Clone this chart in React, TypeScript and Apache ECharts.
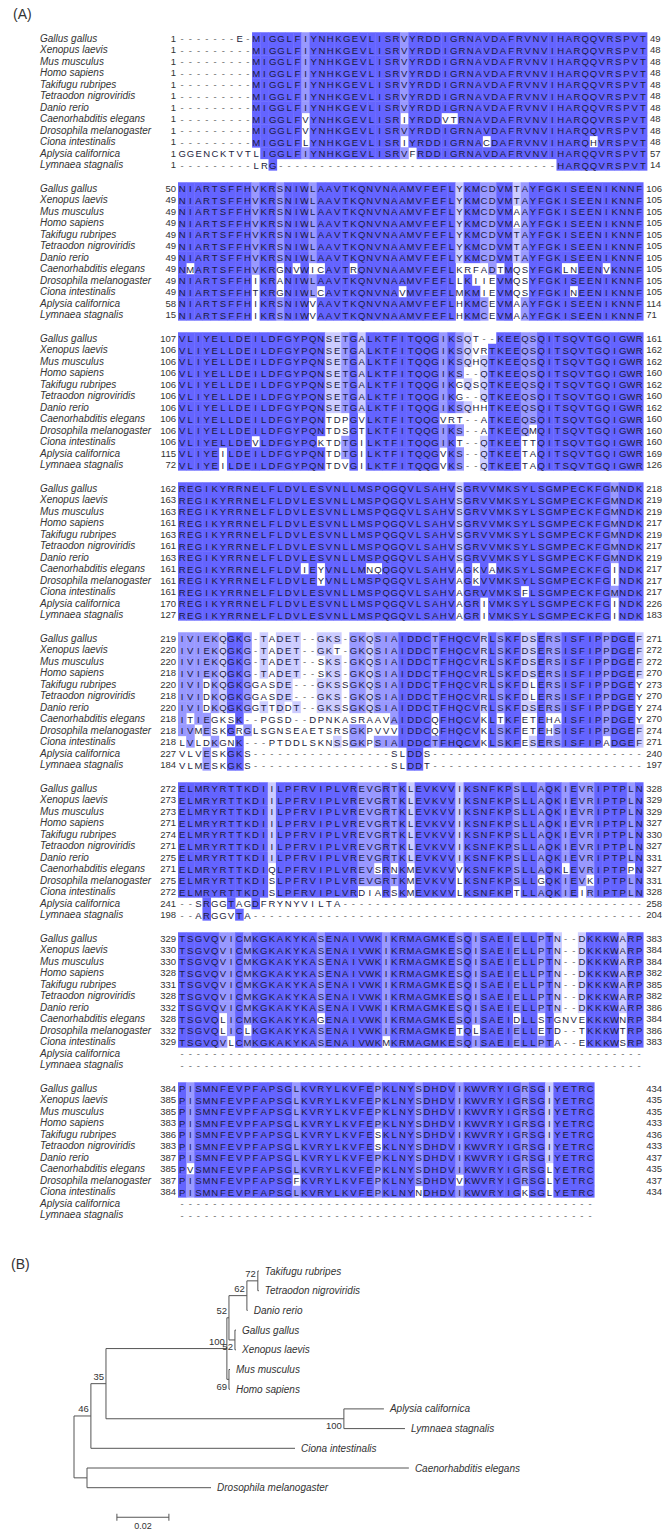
import React, { useEffect, useRef } from "react";
import * as echarts from "echarts";

// ---------- alignment data ----------
const SPECIES = [
  "Gallus gallus",
  "Xenopus laevis",
  "Mus musculus",
  "Homo sapiens",
  "Takifugu rubripes",
  "Tetraodon nigroviridis",
  "Danio rerio",
  "Caenorhabditis elegans",
  "Drosophila melanogaster",
  "Ciona intestinalis",
  "Aplysia californica",
  "Lymnaea stagnalis",
];

const COLUMNS_PER_LINE = 57;

const BLOCK1 = [
  "-------E-MIGGLFIYNHKGEVLISRVYRDDIGRNAVDAFRVNVIHARQQVRSPVT",
  "---------MIGGLFIYNHKGEVLISRVYRDDIGRNAVDAFRVNVIHARQQVRSPVT",
  "---------MIGGLFIYNHKGEVLISRVYRDDIGRNAVDAFRVNVIHARQQVRSPVT",
  "---------MIGGLFIYNHKGEVLISRVYRDDIGRNAVDAFRVNVIHARQQVRSPVT",
  "---------MIGGLFIYNHKGEVLISRVYRDDIGRNAVDAFRVNVIHARQQVRSPVT",
  "---------MIGGLFIYNHKGEVLISRVYRDDIGRNAVDAFRVNVIHARQQVRSPVT",
  "---------MIGGLFIYNHKGEVLISRVYRDDIGRNAVDAFRVNVIHARQQVRSPVT",
  "---------MIGGLFVYNHKGEVLISRIYRDDVTRNAVDAFRVNVIHARQQVRSPVT",
  "---------MIGGLFVYNHKGEVLISRVYRDDIGRNAVDAFRVNVIHARQQVRSPVT",
  "---------MIGGLFLYNHKGEVLISRIYRDDIGRNACDAFRVNVIHARQHVRSPVT",
  "GGENCKTVTLIGGLFIYNHKGEVLISRVFRDDIGRNAVDAFRVNVIHARQQVRSPVT",
  "---------LRG" + "----------" + "----------" + "----------" + "----" + "HARQQVRSPVT",
];
const BLOCK1_START = [1, 1, 1, 1, 1, 1, 1, 1, 1, 1, 1, 1];
const BLOCK1_END = [49, 48, 48, 48, 48, 48, 48, 48, 48, 48, 57, 14];

const BLOCK2 = [
  "NIARTSFFHVKRSNIWLAAVTKQNVNAAMVFEFLYKMCDVMTAYFGKISEENIKNNF",
  "NIARTSFFHVKRSNIWLAAVTKQNVNAAMVFEFLYKMCDVMTAYFGKISEENIKNNF",
  "NIARTSFFHVKRSNIWLAAVTKQNVNAAMVFEFLYKMCDVMAAYFGKISEENIKNNF",
  "NIARTSFFHVKRSNIWLAAVTKQNVNAAMVFEFLYKMCDVMAAYFGKISEENIKNNF",
  "NIARTSFFHVKRSNIWLAAVTKQNVNAAMVFEFLYKMCDVMTAYFGKISEENIKNNF",
  "NIARTSFFHVKRSNIWLAAVTKQNVNAAMVFEFLYKMCDVMTAYFGKISEENIKNNF",
  "NIARTSFFHVKRSNIWLAAVTKQNVNAAMVFEFLYKMCDVMTAYFGKISEENIKNNF",
  "NMARTSFFHVKRGNVWICAVTRQNVNAAMVFEFLKRFADTMQSYFGKLNEENVKNNF",
  "NIARTSFFHIKRANIWLAAVTKQNVNAAMVFEFLLKIIEVMQSYFGKISEENIKNNF",
  "NIARTSFFHTKRGNIWLCAVTKQNVNAVMVFEFLMKMIEVMQSYFGKINEENIKNNF",
  "NIARTSFFHIKRSNIWVAAVTKQNVNAAMVFEFLHKMCEVMAAYFGKISEENIKNNF",
  "NIARTSFFHIKRSNIWVAAVTKQNVNAAMVFEFLHKMCEVMAAYFGKISEENIKNNF",
];
const BLOCK2_START = [50, 49, 49, 49, 49, 49, 49, 49, 49, 49, 58, 15];
const BLOCK2_END = [106, 105, 105, 105, 105, 105, 105, 105, 105, 105, 114, 71];

const BLOCK3 = [
  "VLIYELLDEILDFGYPQNSETGALKTFITQQGIKSQT--KEEQSQITSQVTGQIGWR",
  "VLIYELLDEILDFGYPQNSETGALKTFITQQGIKSQVRTKEEQSQITSQVTGQIGWR",
  "VLIYELLDEILDFGYPQNSETGALKTFITQQGIKSQHQTKEEQSQITSQVTGQIGWR",
  "VLIYELLDEILDFGYPQNSETGALKTFITQQGIKS--QTKEEQSQITSQVTGQIGWR",
  "VLIYELLDEILDFGYPQNSETGALKTFITQQGIKGQSQTKEEQSQITSQVTGQIGWR",
  "VLIYELLDEILDFGYPQNSETGALKTFITQQGIKG--QTKEEQSQITSQVTGQIGWR",
  "VLIYELLDEILDFGYPQNSETGALKTFITQQGIKSQHHTKEEQSQITSQVTGQIGWR",
  "VLIYELLDEILDFGYPQNTDPGVLKTFITQQGVRT--ATKEEQSQITSQVTGQIGWR",
  "VLIYELLDEILDFGYPQNTDSGTLKTFITQQGIKS--ATKEEQMQITSQVTGQIGWR",
  "VLIYELLDEVLDFGYPQKTDTGILKTFITQQGIKT--QTKEETTQITSQVTGQIGWR",
  "VLIYEILDEILDFGYPQNTDTGILKTFITQQGVKS--QTKEETAQITSQVTGQIGWR",
  "VLIYEILDEILDFGYPQNTDVGILKTFITQQGVKS--QTKEETAQITSQVTGQIGWR",
];
const BLOCK3_START = [107, 106, 106, 106, 106, 106, 106, 106, 106, 106, 115, 72];
const BLOCK3_END = [161, 162, 162, 160, 162, 160, 162, 160, 160, 160, 169, 126];

const BLOCK4 = [
  "REGIKYRRNELFLDVLESVNLLMSPQGQVLSAHVSGRVVMKSYLSGMPECKFGMNDK",
  "REGIKYRRNELFLDVLESVNLLMSPQGQVLSAHVSGRVVMKSYLSGMPECKFGMNDK",
  "REGIKYRRNELFLDVLESVNLLMSPQGQVLSAHVSGRVVMKSYLSGMPECKFGMNDK",
  "REGIKYRRNELFLDVLESVNLLMSPQGQVLSAHVSGRVVMKSYLSGMPECKFGMNDK",
  "REGIKYRRNELFLDVLESVNLLMSPQGQVLSAHVSGRVVMKSYLSGMPECKFGMNDK",
  "REGIKYRRNELFLDVLESVNLLMSPQGQVLSAHVSGRVVMKSYLSGMPECKFGMNDK",
  "REGIKYRRNELFLDVLESVNLLMSPQGQVLSAHVSGRVVMKSYLSGMPECKFGMNDK",
  "REGIKYRRNELFLDVIEYVNLLMNQQGQVLSAHVAGKVAMKSYLSGMPECKFGINDK",
  "REGIKYRRNELFLDVLEYVNLLMSPQGQVLSAHVAGKVVMKSYLSGMPECKFGINDK",
  "REGIKYRRNELFLDVLESVNLLMSPQGQVLSAHVAGRVVMKSFLSGMPECKFGMNDK",
  "REGIKYRRNELFLDVLESVNLLMSPQGQVLSAHVAGRIVMKSYLSGMPECKFGINDK",
  "REGIKYRRNELFLDVLESVNLLMSPQGQVLSAHVAGRIVMKSYLSGMPECKFGINDK",
];
const BLOCK4_START = [162, 163, 163, 161, 163, 161, 163, 161, 161, 161, 170, 127];
const BLOCK4_END = [218, 219, 219, 217, 219, 217, 219, 217, 217, 217, 226, 183];

const BLOCK5 = [
  "IVIEKQGKG-TADET--GKS-GKQSIAIDDCTFHQCVRLSKFDSERSISFIPPDGEF",
  "IVIEKQGKG-TADET--GKT-GKQSIAIDDCTFHQCVRLSKFDSERSISFIPPDGEF",
  "IVIEKQGKG-TADET--SKS-GKQSIAIDDCTFHQCVRLSKFDSERSISFIPPDGEF",
  "IVIEKQGKG-TADET--SKS-GKQSIAIDDCTFHQCVRLSKFDSERSISFIPPDGEF",
  "IVIDKQGKGGASDE---GKSSGKQSIAIDDCTFHQCVRLSKFDLERSISFIPPDGEY",
  "IVIDKQGKGGASDE---GKS-GKQSIAIDDCTFHQCVRLSKFDLERSISFIPPDGEY",
  "IVIDKQGKGGTTDDT--GKSSGKQSIAIDDCTFHQCVRLSKFDSERSISFIPPDGEY",
  "ITIEGKSK--PGSD--DPNKASRAAVAIDDCQFHQCVKLTKFETEHAISFIPPDGEY",
  "IVMESKGRGLSGNSEAETSRSGKPVVVIDDCQFHQCVKLSKFETEHSISFIPPDGEF",
  "LVLDKGNK---PTDDLSKNSSGKPSIAIDDCTFHQCVKLSKFESERSISFIPADGEF",
  "VLVESKGKS" + "----------" + "-------" + "SLDDS",
  "VLMESKGKS" + "----------" + "-------" + "SLDDT",
];
const BLOCK5_START = [219, 220, 220, 218, 220, 218, 220, 218, 218, 218, 227, 184];
const BLOCK5_END = [271, 272, 272, 270, 273, 270, 274, 270, 274, 271, 240, 197];

const BLOCK6 = [
  "ELMRYRTTKDIILPFRVIPLVREVGRTKLEVKVVIKSNFKPSLLAQKIEVRIPTPLN",
  "ELMRYRTTKDIILPFRVIPLVREVGRTKLEVKVVIKSNFKPSLLAQKIEVRIPTPLN",
  "ELMRYRTTKDIILPFRVIPLVREVGRTKLEVKVVIKSNFKPSLLAQKIEVRIPTPLN",
  "ELMRYRTTKDIILPFRVIPLVREVGRTKLEVKVVIKSNFKPSLLAQKIEVRIPTPLN",
  "ELMRYRTTKDIILPFRVIPLVREVGRTKLEVKVVIKSNFKPSLLAQKIEVRIPTPLN",
  "ELMRYRTTKDIILPFRVIPLVREVGRTKLEVKVVIKSNFKPSLLAQKIEVRIPTPLN",
  "ELMRYRTTKDIILPFRVIPLVREVGRTKLEVKVVIKSNFKPSLLAQKIEVRIPTPLN",
  "ELMRYRTTKDIQLPFRVIPLVREVSRNKMEVKVVVKSNFKPSLLAQKLEVRIPTPPN",
  "ELMRYRTTKDISLPFRVIPLVREVGRTKMEVKVVLKSNFKPSLLGQKIEVKIPTPLN",
  "ELMRYRTTKDISLPFRVIPLVRDIARSKMEVKVVLKSNFKPTLLAQKIEIRIPTPLN",
  "--SRGGTAGDFRYNYVILTA",
  "--ARGGVTA",
];
const BLOCK6_START = [272, 273, 273, 271, 274, 271, 275, 271, 275, 272, 241, 198];
const BLOCK6_END = [328, 329, 329, 327, 330, 327, 331, 327, 331, 328, 258, 204];

const BLOCK7 = [
  "TSGVQVICMKGKAKYKASENAIVWKIKRMAGMKESQISAEIELLPTN--DKKKWARP",
  "TSGVQVICMKGKAKYKASENAIVWKIKRMAGMKESQISAEIELLPTN--DKKKWARP",
  "TSGVQVICMKGKAKYKASENAIVWKIKRMAGMKESQISAEIELLPTN--DKKKWARP",
  "TSGVQVICMKGKAKYKASENAIVWKIKRMAGMKESQISAEIELLPTN--DKKKWARP",
  "TSGVQVICMKGKAKYKASENAIVWKIKRMAGMKESQISAEIELLPTN--DKKKWARP",
  "TSGVQVICMKGKAKYKASENAIVWKIKRMAGMKESQISAEIELLPTN--DKKKWARP",
  "TSGVQVICMKGKAKYKASENAIVWKIKRMAGMKESQISAEIELLPTN--DKKKWARP",
  "TSGVQLICMKGKAKYKAGENAIVWKIKRMAGMKESQISAEIDLLSTGNVEKKKWNRP",
  "TSGVQLICLKGKAKYKASENAIVWKIKRMAGMKETQLSAEIELLETD--TKKKWTRP",
  "TSGVQVLCMKGKAKYKASENAIVWKMKRMAGMKESQISAEIELLPTA--EKKKWSRP",
  "",
  "",
];
const BLOCK7_START = [329, 330, 330, 328, 331, 328, 332, 328, 332, 329, null, null];
const BLOCK7_END = [383, 384, 384, 382, 385, 382, 386, 384, 386, 383, null, null];

const BLOCK8 = [
  "PISMNFEVPFAPSGLKVRYLKVFEPKLNYSDHDVIKWVRYIGRSGIYETRC",
  "PISMNFEVPFAPSGLKVRYLKVFEPKLNYSDHDVIKWVRYIGRSGIYETRC",
  "PISMNFEVPFAPSGLKVRYLKVFEPKLNYSDHDVIKWVRYIGRSGIYETRC",
  "PISMNFEVPFAPSGLKVRYLKVFEPKLNYSDHDVIKWVRYIGRSGIYETRC",
  "PISMNFEVPFAPSGLKVRYLKVFESKLNYSDHDVIKWVRYIGRSGIYETRC",
  "PISMNFEVPFAPSGLKVRYLKVFESKLNYSDHDVIKWVRYIGRSGIYETRC",
  "PISMNFEVPFAPSGLKVRYLKVFEPKLNYSDHDVIKWVRYIGRSGIYETRC",
  "PVSMNFEVPFAPSGLKVRYLKVFEPKLNYSDHDVIKWVRYIGRSGLYETRC",
  "PISMNFEVPFAPSGFKVRYLKVFEPKLNYSDHDVVKWVRYIGRSGLYETRC",
  "PISMNFEVPFAPSGLKVRYLKVFEPKLNYNDHDVIKWVRYIGKSGLYETRC",
  "",
  "",
];
const BLOCK8_START = [384, 385, 385, 383, 386, 383, 387, 385, 387, 384, null, null];
const BLOCK8_END = [434, 435, 435, 433, 436, 433, 437, 435, 437, 434, null, null];

const BLOCKS = [
  { rows: BLOCK1, start: BLOCK1_START, end: BLOCK1_END, width: 57 },
  { rows: BLOCK2, start: BLOCK2_START, end: BLOCK2_END, width: 57 },
  { rows: BLOCK3, start: BLOCK3_START, end: BLOCK3_END, width: 57 },
  { rows: BLOCK4, start: BLOCK4_START, end: BLOCK4_END, width: 57 },
  { rows: BLOCK5, start: BLOCK5_START, end: BLOCK5_END, width: 57 },
  { rows: BLOCK6, start: BLOCK6_START, end: BLOCK6_END, width: 57 },
  { rows: BLOCK7, start: BLOCK7_START, end: BLOCK7_END, width: 57 },
  { rows: BLOCK8, start: BLOCK8_START, end: BLOCK8_END, width: 51 },
];

// percentage-identity shading (residue matches column consensus)
const PID_LIMITS = [80, 60, 40];
const PID_COLORS = ["#6464ff", "#9999ff", "#ccccff"];

// ---------- tree data ----------
const TREE_LEAVES = [
  "Takifugu rubripes",
  "Tetraodon nigroviridis",
  "Danio rerio",
  "Gallus gallus",
  "Xenopus laevis",
  "Mus musculus",
  "Homo sapiens",
  "Aplysia californica",
  "Lymnaea stagnalis",
  "Ciona intestinalis",
  "Caenorhabditis elegans",
  "Drosophila melanogaster",
];
// [node, parent, branch length, bootstrap]
const TREE_EDGES: [string, string, number, string][] = [
  ["n46", "root", 0.0065, "46"],
  ["nCD", "root", 0.005, ""],
  ["n35", "n46", 0.0058, "35"],
  ["Ciona intestinalis", "n46", 0.0785, ""],
  ["nVert", "n35", 0.0465, "100"],
  ["nMoll", "n35", 0.0915, "100"],
  ["n52a", "nVert", 0.0008, "52"],
  ["n69", "nVert", 0.0008, "69"],
  ["n62", "n52a", 0.0069, "62"],
  ["n52b", "n52a", 0.0023, "52"],
  ["n72", "n62", 0.0042, "72"],
  ["Danio rerio", "n62", 0.0003, ""],
  ["Takifugu rubripes", "n72", 0.0004, ""],
  ["Tetraodon nigroviridis", "n72", 0.0004, ""],
  ["Gallus gallus", "n52b", 0.0004, ""],
  ["Xenopus laevis", "n52b", 0.0004, ""],
  ["Mus musculus", "n69", 0.0004, ""],
  ["Homo sapiens", "n69", 0.0004, ""],
  ["Aplysia californica", "nMoll", 0.0154, ""],
  ["Lymnaea stagnalis", "nMoll", 0.0235, ""],
  ["Caenorhabditis elegans", "nCD", 0.1238, ""],
  ["Drosophila melanogaster", "nCD", 0.0477, ""],
];
const SCALE_BAR = { start: 0.0165, length: 0.02, row: 12.5 };

// ---------- layout constants ----------
const SEQ_LEFT = 178;
const SEQ_WIDTH = 469;
const ROW_H = 11.5;
const BLOCK_TOP = 32.25;
const BLOCK_PITCH = 150;
const FONT = '"Liberation Sans", Arial, sans-serif';
const TEXT = "#333333";
const RES_TEXT = "#1c1c3c";
const GAP_TEXT = "#6a6a6a";
const TREE_LINE = "#555555";

type Cell = { col: number; row: number; ch: string; shade: number };

function shadeBlock(rows: string[]): Cell[] {
  const width = rows[0].length;
  const cells: Cell[] = [];
  for (let c = 0; c < width; c++) {
    const counts: Record<string, number> = {};
    rows.forEach((r) => {
      const ch = r[c];
      if (ch !== "-") counts[ch] = (counts[ch] || 0) + 1;
    });
    const max = Math.max(0, ...Object.values(counts));
    const pct = (max * 100) / rows.length;
    const level = PID_LIMITS.findIndex((t) => pct > t);
    rows.forEach((r, i) => {
      const ch = r[c];
      const shade = ch !== "-" && level >= 0 && counts[ch] === max ? level : -1;
      cells.push({ col: c, row: i, ch, shade });
    });
  }
  return cells;
}

type TreeNode = {
  name: string;
  x: number;
  y: number;
  parentX: number | null;
  yTop: number | null;
  yBottom: number | null;
  support: string;
  upper: boolean;
  leaf: boolean;
};

function layoutTree(): TreeNode[] {
  const kids: Record<string, string[]> = {};
  const parentOf: Record<string, string> = {};
  const lenOf: Record<string, number> = {};
  const supportOf: Record<string, string> = {};
  TREE_EDGES.forEach(([n, p, l, s]) => {
    (kids[p] = kids[p] || []).push(n);
    parentOf[n] = p;
    lenOf[n] = l;
    supportOf[n] = s;
  });
  const xs: Record<string, number> = { root: 0 };
  const ys: Record<string, number> = {};
  const setX = (n: string) => {
    (kids[n] || []).forEach((k) => {
      xs[k] = xs[n] + lenOf[k];
      setX(k);
    });
  };
  setX("root");
  const setY = (n: string): number => {
    const ch = kids[n];
    if (!ch) {
      ys[n] = TREE_LEAVES.indexOf(n);
    } else {
      const first = setY(ch[0]);
      const last = ch.slice(1).map(setY).pop() as number;
      ys[n] = (first + last) / 2;
    }
    return ys[n];
  };
  setY("root");
  const names = ["root", ...TREE_EDGES.map((e) => e[0])];
  return names.map((n) => {
    const ch = kids[n];
    const p = parentOf[n];
    return {
      name: n,
      x: xs[n],
      y: ys[n],
      parentX: p ? xs[p] : null,
      yTop: ch ? ys[ch[0]] : null,
      yBottom: ch ? ys[ch[ch.length - 1]] : null,
      support: supportOf[n] || "",
      upper: p ? kids[p][0] === n : false,
      leaf: !ch,
    };
  });
}

export default function App() {
  const ref = useRef<HTMLDivElement>(null);

  useEffect(() => {
    if (!ref.current) return;
    const chart = echarts.init(ref.current, undefined, { renderer: "svg" });

    const grids: any[] = [];
    const xAxes: any[] = [];
    const yAxes: any[] = [];
    const series: any[] = [];
    const hidden = { show: false };

    BLOCKS.forEach((block, b) => {
      const rows = block.rows.map((r) => r.padEnd(block.width, "-"));
      const cells = shadeBlock(rows);
      grids.push({
        left: SEQ_LEFT,
        top: BLOCK_TOP + b * BLOCK_PITCH,
        width: SEQ_WIDTH,
        height: ROW_H * SPECIES.length,
      });
      xAxes.push({
        type: "value",
        gridIndex: b,
        min: 0,
        max: COLUMNS_PER_LINE,
        show: false,
      });
      const catBase = {
        type: "category",
        gridIndex: b,
        data: SPECIES,
        inverse: true,
        axisLine: hidden,
        axisTick: hidden,
        splitLine: hidden,
      };
      yAxes.push({
        ...catBase,
        position: "left",
        axisLabel: {
          interval: 0,
          margin: SEQ_LEFT - 40,
          align: "left",
          fontStyle: "italic",
          fontSize: 10,
          fontFamily: FONT,
          color: TEXT,
        },
      });
      yAxes.push({
        ...catBase,
        position: "left",
        axisLabel: {
          interval: 0,
          margin: 2,
          fontSize: 9.5,
          fontFamily: FONT,
          color: TEXT,
          formatter: (_: string, i: number) =>
            block.start[i] == null ? "" : String(block.start[i]),
        },
      });
      yAxes.push({
        ...catBase,
        position: "right",
        axisLabel: {
          interval: 0,
          margin: 3,
          fontSize: 9.5,
          fontFamily: FONT,
          color: TEXT,
          formatter: (_: string, i: number) =>
            block.end[i] == null ? "" : String(block.end[i]),
        },
      });
      series.push({
        type: "custom",
        xAxisIndex: b,
        yAxisIndex: b * 3,
        silent: true,
        data: cells.map((c) => [c.col + 0.5, c.row]),
        renderItem: (params: any, api: any) => {
          const c = cells[params.dataIndex];
          const pt = api.coord([api.value(0), api.value(1)]);
          const sz = api.size([1, 1]);
          const children: any[] = [];
          if (c.shade >= 0) {
            children.push({
              type: "rect",
              shape: {
                x: pt[0] - sz[0] / 2,
                y: pt[1] - sz[1] / 2,
                width: sz[0] + 0.4,
                height: sz[1] + 0.4,
              },
              style: { fill: PID_COLORS[c.shade] },
            });
          }
          children.push({
            type: "text",
            x: pt[0],
            y: pt[1] + 0.5,
            style: {
              text: c.ch,
              fill: c.ch === "-" ? GAP_TEXT : RES_TEXT,
              font: `9.5px ${FONT}`,
              align: "center",
              verticalAlign: "middle",
            },
          });
          return { type: "group", children };
        },
      });
    });

    // phylogenetic tree
    const treeGrid = grids.length;
    const nodes = layoutTree();
    grids.push({ left: 74, top: 1271, width: 520, height: 13 * 19.7 });
    xAxes.push({ type: "value", gridIndex: treeGrid, min: 0, max: 0.2, show: false });
    yAxes.push({
      type: "value",
      gridIndex: treeGrid,
      min: 0,
      max: 13,
      inverse: true,
      show: false,
    });
    const treeY = yAxes.length - 1;
    series.push({
      type: "custom",
      xAxisIndex: treeGrid,
      yAxisIndex: treeY,
      silent: true,
      data: nodes.map((n) => [n.x, n.y]),
      renderItem: (params: any, api: any) => {
        const n = nodes[params.dataIndex];
        const p = api.coord([n.x, n.y]);
        const children: any[] = [];
        const line = { stroke: TREE_LINE, lineWidth: 1 };
        if (n.parentX !== null) {
          const pp = api.coord([n.parentX, n.y]);
          children.push({
            type: "line",
            shape: { x1: pp[0], y1: p[1], x2: p[0], y2: p[1] },
            style: line,
          });
        }
        if (n.yTop !== null && n.yBottom !== null) {
          const a = api.coord([n.x, n.yTop]);
          const bt = api.coord([n.x, n.yBottom]);
          children.push({
            type: "line",
            shape: { x1: p[0], y1: a[1], x2: p[0], y2: bt[1] },
            style: line,
          });
        }
        if (n.leaf) {
          children.push({
            type: "text",
            x: p[0] + 6,
            y: p[1],
            style: {
              text: n.name,
              fill: TEXT,
              font: `italic 10px ${FONT}`,
              align: "left",
              verticalAlign: "middle",
            },
          });
        }
        if (n.support) {
          children.push({
            type: "text",
            x: p[0] - 2,
            y: n.upper ? p[1] - 2 : p[1] + 2,
            style: {
              text: n.support,
              fill: TEXT,
              font: `9.5px ${FONT}`,
              align: "right",
              verticalAlign: n.upper ? "bottom" : "top",
            },
          });
        }
        return { type: "group", children };
      },
    });

    // scale bar
    series.push({
      type: "custom",
      xAxisIndex: treeGrid,
      yAxisIndex: treeY,
      silent: true,
      data: [[SCALE_BAR.start, SCALE_BAR.row, SCALE_BAR.length]],
      renderItem: (_: any, api: any) => {
        const a = api.coord([api.value(0), api.value(1)]);
        const b = api.coord([api.value(0) + api.value(2), api.value(1)]);
        const st = { stroke: TREE_LINE, lineWidth: 1 };
        return {
          type: "group",
          children: [
            { type: "line", shape: { x1: a[0], y1: a[1], x2: b[0], y2: a[1] }, style: st },
            { type: "line", shape: { x1: a[0], y1: a[1] - 3.5, x2: a[0], y2: a[1] + 3.5 }, style: st },
            { type: "line", shape: { x1: b[0], y1: a[1] - 3.5, x2: b[0], y2: a[1] + 3.5 }, style: st },
            {
              type: "text",
              x: (a[0] + b[0]) / 2,
              y: a[1] + 4,
              style: {
                text: Number(api.value(2)).toFixed(2),
                fill: TEXT,
                font: `9px ${FONT}`,
                align: "center",
                verticalAlign: "top",
              },
            },
          ],
        };
      },
    });

    chart.setOption({
      animation: false,
      backgroundColor: "#ffffff",
      grid: grids,
      xAxis: xAxes,
      yAxis: yAxes,
      series,
      graphic: [
        {
          type: "text",
          left: 13,
          top: 7,
          style: { text: "(A)", fill: TEXT, font: `14px ${FONT}` },
        },
        {
          type: "text",
          left: 11,
          top: 1257,
          style: { text: "(B)", fill: TEXT, font: `14px ${FONT}` },
        },
      ],
    });

    return () => chart.dispose();
  }, []);

  return (
    <div
      ref={ref}
      style={{ position: "absolute", left: 0, top: 0, width: 665, height: 1530, background: "#fff" }}
    />
  );
}
